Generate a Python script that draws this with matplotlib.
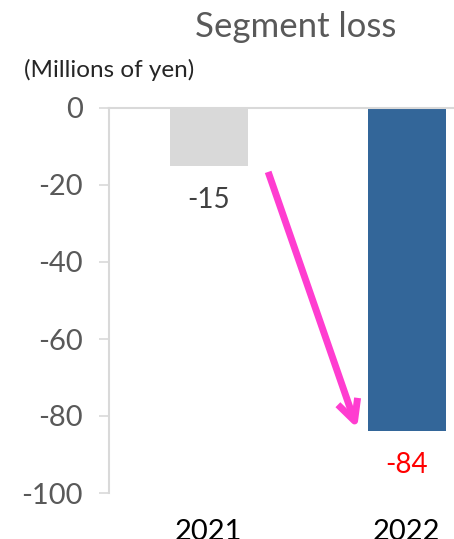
import matplotlib
matplotlib.use("Agg")
import matplotlib.pyplot as plt

years = ["2021", "2022"]
loss = [-15, -84]
bar_colors = ["#d9d9d9", "#336699"]
label_colors = ["#404040", "#ff0000"]
yticks = [0, -20, -40, -60, -80, -100]

plt.rcParams["font.family"] = ["Lato", "DejaVu Sans"]
plt.rcParams["axes.unicode_minus"] = False

fig = plt.figure(figsize=(4.54, 5.39), dpi=100)
ax = fig.add_axes([109 / 454, 1 - 493 / 539, 1 - 109 / 454, (493 - 108) / 539])

xs = list(range(len(years)))
bars = ax.bar(xs, loss, width=0.395, color=bar_colors)
ax.set_xlim(-0.505, 1.24)
ax.set_ylim(-100, 0)

# value labels under each bar
for x, v, c in zip(xs, loss, label_colors):
    ax.annotate(f"{v}", (x, v), xytext=(0, -15), textcoords="offset points",
                ha="center", va="top", fontsize=20, color=c)

# arrow showing the drop from 2021 to 2022
ax.annotate("", xy=(xs[1] - 0.25, loss[1] + 0.8), xytext=(xs[0] + 0.3, loss[0] - 1.6),
            arrowprops=dict(arrowstyle="->,head_length=1.5,head_width=0.75",
                            color="#ff3dd0", lw=5, shrinkA=0, shrinkB=0,
                            capstyle="butt", joinstyle="round"))

ax.set_yticks(yticks)
ax.tick_params(axis="y", length=7, width=1.2, color="#d9d9d9", labelcolor="#595959",
               labelsize=21, pad=12)
ax.set_xticks([])
for x, y in zip(xs, years):
    ax.text(x, -110, y, ha="center", va="center", fontsize=21, color="black",
            clip_on=False)

for s in ["right", "bottom"]:
    ax.spines[s].set_visible(False)
for s in ["left", "top"]:
    ax.spines[s].set_color("#d9d9d9")
    ax.spines[s].set_linewidth(1.5)

fig.text(296 / 454, 1 - 27 / 539, "Segment loss", ha="center", va="center",
         fontsize=25, color="#595959")
fig.text(24 / 454, 1 - 70 / 539, "(Millions of yen)", ha="left", va="center",
         fontsize=17.5, color="#262626")

fig.savefig("out.png", dpi=100)
